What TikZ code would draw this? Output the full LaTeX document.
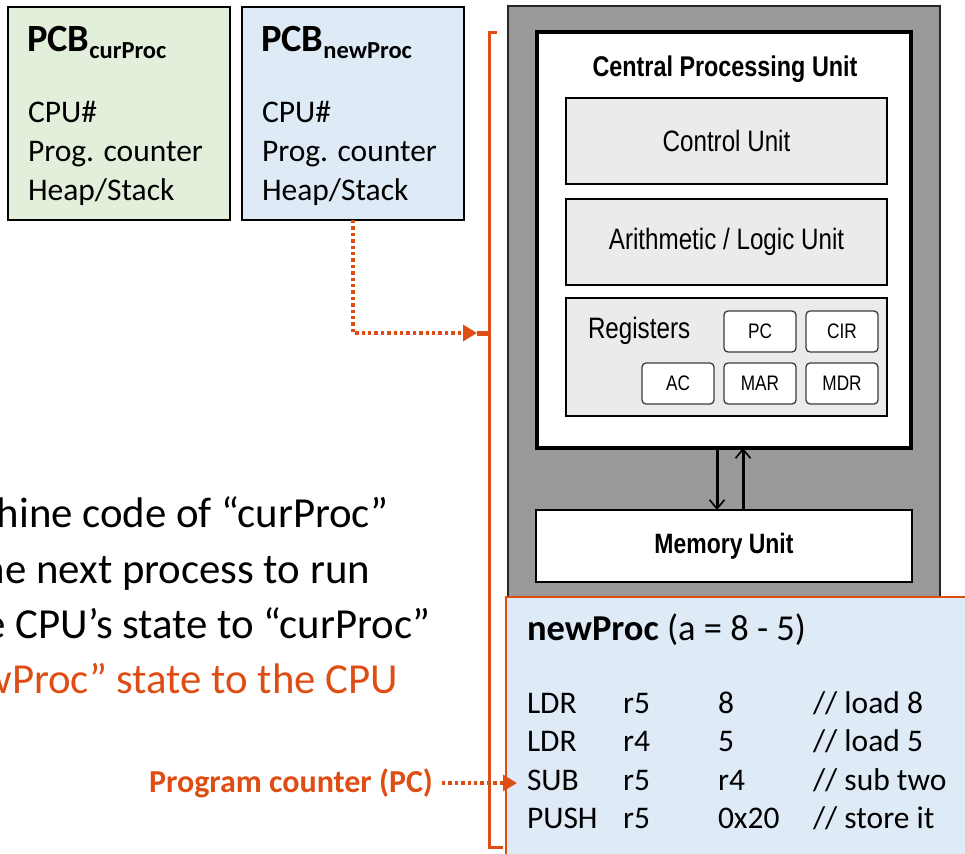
\documentclass[tikz,border=0pt]{standalone}
\usepackage{fontspec}
\setmainfont{Carlito}
\newfontfamily\cpufont[FakeStretch=0.82]{Liberation Sans}
\usetikzlibrary{arrows.meta}

\definecolor{accent}{RGB}{222,78,20}
\definecolor{pcbgreen}{RGB}{226,239,218}
\definecolor{pcbblue}{RGB}{222,234,246}
\definecolor{casegray}{RGB}{153,153,153}
\definecolor{unitgray}{RGB}{235,235,235}
\definecolor{regedge}{RGB}{60,60,60}

\newcommand{\fsz}[1]{\fontsize{#1}{#1}\selectfont}

\tikzset{
  plain/.style={inner sep=0pt, outer sep=0pt},
  pcbbox/.style={plain, draw=black, line width=2.2pt, minimum width=222pt, minimum height=213pt},
  unitbox/.style={plain, draw=black, line width=1.8pt, fill=unitgray, minimum width=321pt},
  regbox/.style={plain, draw=regedge, line width=1.3pt, fill=white, rounded corners=4pt,
    minimum width=72pt, minimum height=41pt, font=\cpufont\fsz{21}},
  body/.style={plain, anchor=base west, font=\fsz{31.5}},
  lead/.style={plain, anchor=base east, font=\fsz{42.8}},
  dotarrow/.style={accent, line width=3.2pt, dash pattern=on 3.4pt off 3pt,
    -{Triangle[length=14pt,width=16pt]}},
  busarrow/.style={black, line width=3pt, -{Straight Barb[length=9pt,width=15pt,line width=1.6pt]}},
}

\begin{document}
\begin{tikzpicture}[x=1pt,y=-1pt]
\useasboundingbox (0,0) rectangle (965,853);
\clip (0,0) rectangle (965,853);

% process control blocks
\node[pcbbox, fill=pcbgreen] (pcbcur) at (119,113.5) {};
\node[pcbbox, fill=pcbblue]  (pcbnew) at (353,113.5) {};
\node[plain, anchor=base west, font=\bfseries\fsz{38.5}] (curtitle) at (27,52)
  {PCB\raisebox{-7pt}{\fsz{24.5}curProc}};
\node[plain, anchor=base west, font=\bfseries\fsz{38.5}] (newtitle) at (261,52)
  {PCB\raisebox{-7pt}{\fsz{24.5}newProc}};
\node[body] (curcpu)  at (28,123) {CPU\#};
\node[body] (curpc)   at (28,161.5) {Prog. counter};
\node[body] (curheap) at (28,200) {Heap/Stack};
\node[body] (newcpu)  at (262,123) {CPU\#};
\node[body] (newpc)   at (262,161.5) {Prog. counter};
\node[body] (newheap) at (262,200) {Heap/Stack};

% computer: case, CPU and memory
\node[plain, draw=black!85, line width=1.5pt, fill=casegray,
  minimum width=432pt, minimum height=614pt] (case) at (724,313) {};
\node[plain, draw=black, line width=4.5pt, fill=white,
  minimum width=374pt, minimum height=416pt] (cpu) at (724,240) {};
\node[plain, anchor=base, font=\cpufont\bfseries\fsz{28.5}] (cputitle) at (725,77)
  {Central Processing Unit};
\node[unitbox, minimum height=86pt, font=\cpufont\fsz{29.5}] (ctrl) at (726.5,141) {Control Unit};
\node[unitbox, minimum height=86pt, font=\cpufont\fsz{29.5}] (alu) at (726.5,242) {Arithmetic / Logic Unit};
\node[unitbox, minimum height=118pt] (regs) at (726.5,357) {};
\node[plain, anchor=base west, font=\cpufont\fsz{29.5}] (regtitle) at (588,338) {Registers};
\node[regbox] (rpc)  at (760,331.5) {PC};
\node[regbox] (rcir) at (842,331.5) {CIR};
\node[regbox] (rac)  at (678,383.5) {AC};
\node[regbox] (rmar) at (760,383.5) {MAR};
\node[regbox] (rmdr) at (842,383.5) {MDR};
\node[plain, draw=black, line width=2.5pt, fill=white, minimum width=376pt, minimum height=72pt,
  font=\cpufont\bfseries\fsz{28}] (mem) at (724,546) {Memory Unit};
\draw[busarrow] ([xshift=-7pt]cpu.south) -- ([xshift=-7pt]mem.north);
\draw[busarrow] ([xshift=19pt]mem.north) -- ([xshift=19pt]cpu.south);

% code of the new process
\node[plain, draw=accent, line width=2.2pt, fill=pcbblue,
  minimum width=469pt, minimum height=273pt] (code) at (740.5,733.5) {};
\node[plain, anchor=base west, font=\fsz{36.5}] (codetitle) at (527,640)
  {\textbf{newProc} (a = 8 - 5)};
\foreach \r/\y/\op/\ra/\rb/\cm in {1/713/LDR/r5/8/{// load 8},
                                   2/751.5/LDR/r4/5/{// load 5},
                                   3/790/SUB/r5/r4/{// sub two},
                                   4/828.5/PUSH/r5/0x20/{// store it}}{
  \node[body] (op\r) at (527,\y) {\op};
  \node[body] (ra\r) at (623,\y) {\ra};
  \node[body] (rb\r) at (718,\y) {\rb};
  \node[body] (cm\r) at (813,\y) {\cm};
}

% bracket over the CPU state
\coordinate (brtop) at (497,33);
\coordinate (brbot) at (503,847);
\coordinate (brmid) at (489,333);
\coordinate (brtip) at (477,333);
\draw[accent, line width=3pt] (brtop) -| (brmid) |- (brbot);
\draw[accent, line width=5pt] (brmid) -- (brtip);
\draw[dotarrow] (pcbnew.south) |- (brtip);

% program counter pointer
\node[plain, anchor=base east, text=accent, font=\bfseries\fsz{32}] (pclabel) at (433,792)
  {Program counter (PC)};
\coordinate (pctip) at (517,783);
\draw[dotarrow] ([xshift=9pt]pclabel.east |- pctip) -- (pctip);

% steps of the context switch
\node[lead] (step1) at (388,527) {hine code of “curProc”};
\node[lead] (step2) at (370,583) {he next process to run};
\node[lead] (step3) at (430,638) {e CPU’s state to “curProc”};
\node[lead, text=accent] (step4) at (398,693) {wProc” state to the CPU};
\end{tikzpicture}
\end{document}
